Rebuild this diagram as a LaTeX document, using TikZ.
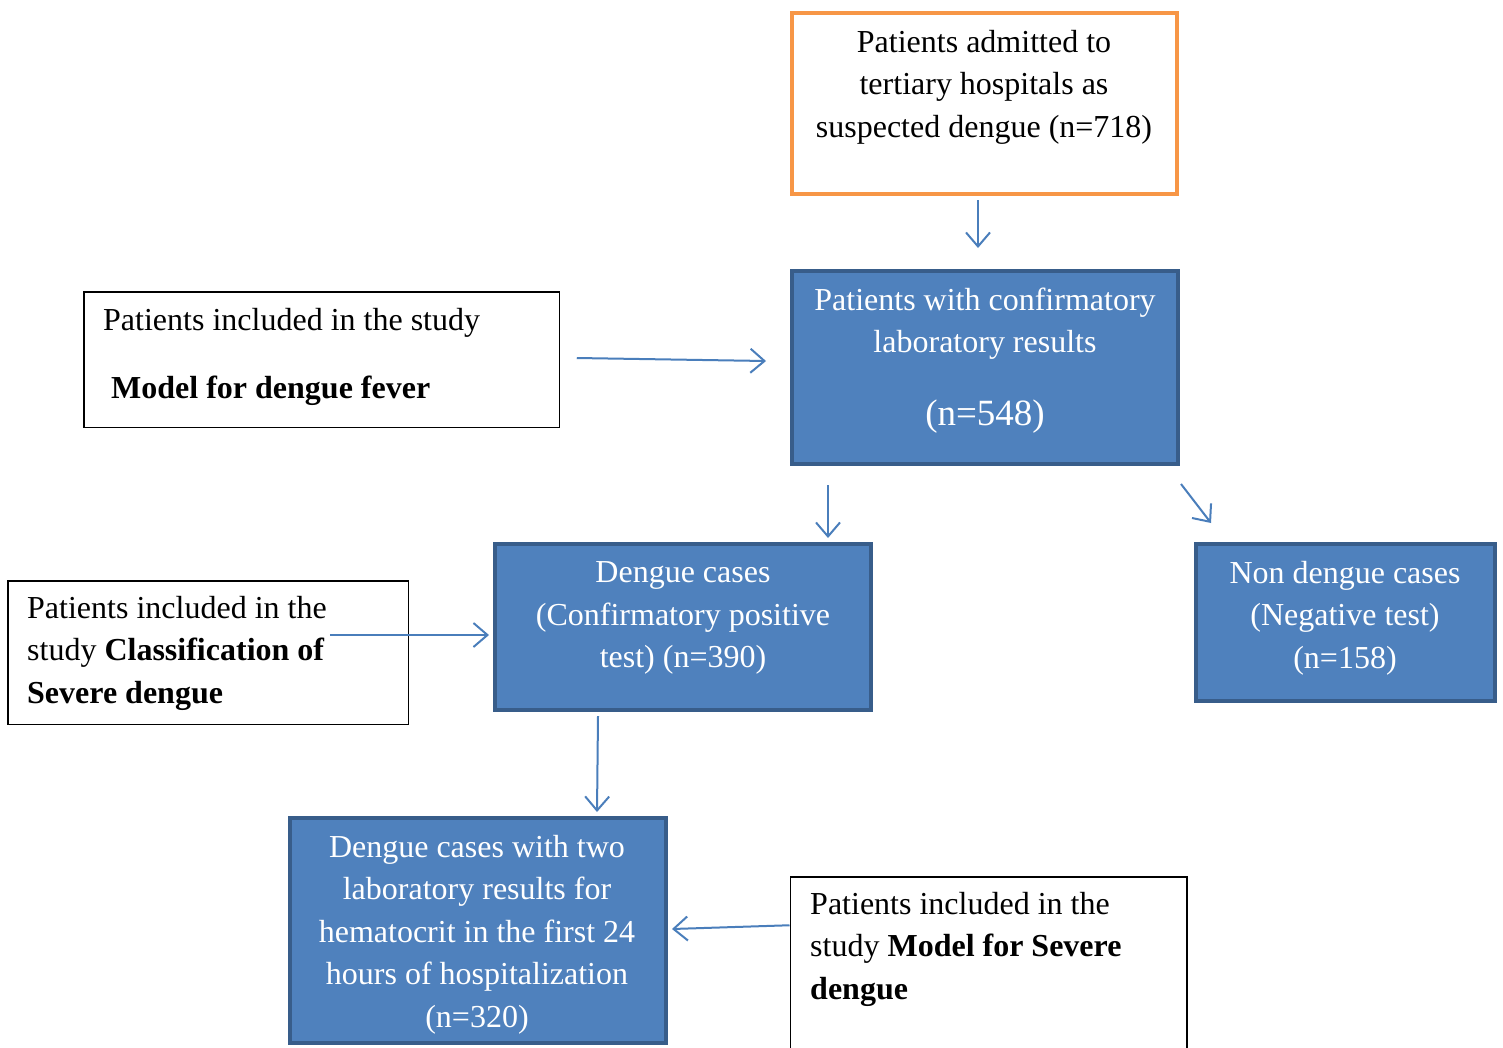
\documentclass[tikz,border=0pt]{standalone}
\usepackage{fontspec}
\setmainfont{Liberation Serif}
\usetikzlibrary{arrows.meta,calc}
\definecolor{blueF}{HTML}{4F81BD}
\definecolor{blueD}{HTML}{385D8A}
\definecolor{orangeB}{HTML}{F79646}
\definecolor{arrC}{HTML}{4A7EBB}
\begin{document}
\begin{tikzpicture}[x=1pt,y=-1pt,
  bluebox/.style={draw=blueD, fill=blueF, line width=4pt, inner sep=0, rectangle},
  orangebox/.style={draw=orangeB, line width=4pt, inner sep=0, rectangle},
  whitebox/.style={draw=black, line width=1.5pt, inner sep=0, rectangle},
  txt/.style={inner sep=0, font=\fontsize{32}{42.5}\selectfont},
  wtxt/.style={txt, text=white, align=center, anchor=north},
  arr/.style={draw=arrC, line width=2pt, -{Straight Barb[length=14pt,width=24pt]}}]
\useasboundingbox (0,0) rectangle (1503,1047);

% boxes
\node[orangebox, minimum width=385, minimum height=181] (adm) at (984.5,103.5) {};
\node[bluebox, minimum width=386, minimum height=193] (conf) at (985,367.5) {};
\node[bluebox, minimum width=376, minimum height=166] (pos) at (683,627) {};
\node[bluebox, minimum width=299, minimum height=157] (neg) at (1345.5,622.5) {};
\node[bluebox, minimum width=376, minimum height=225] (hct) at (478,930.5) {};
\node[whitebox, minimum width=475.5, minimum height=135.5] (incA) at (321.5,359.5) {};
\node[whitebox, minimum width=400.5, minimum height=143.5] (incB) at (208,652.5) {};
\node[whitebox, minimum width=396.5, minimum height=203] (incC) at (988.5,978.25) {};

% texts
\node[txt, align=center, anchor=north] (admT) at (984,22.25)
  {\strut Patients admitted to\\ \strut tertiary hospitals as\\ \strut suspected dengue (n=718)};
\node[wtxt] (confT) at (985,280.25)
  {\strut Patients with confirmatory\\ \strut laboratory results};
\node[inner sep=0, font=\fontsize{37}{44}\selectfont, text=white, anchor=base] (confN) at (985,425) {(n=548)};
\node[wtxt] (posT) at (683,552.75)
  {\strut Dengue cases\\ \strut (Confirmatory positive\\ \strut test) (n=390)};
\node[wtxt] (negT) at (1345,553.25)
  {\strut Non dengue cases\\ \strut (Negative test)\\ \strut (n=158)};
\node[wtxt] (hctT) at (477,827.25)
  {\strut Dengue cases with two\\ \strut laboratory results for\\ \strut hematocrit in the first 24\\ \strut hours of hospitalization\\ \strut (n=320)};
\node[txt, anchor=base west] (incAT1) at (103,330) {Patients included in the study};
\node[txt, anchor=base west] (incAT2) at (111,398) {\bfseries Model for dengue fever};
\node[txt, anchor=north west, align=left] (incBT) at (27,588.25)
  {\strut Patients included in the\\ \strut study \textbf{Classification of}\\ \strut\textbf{Severe dengue}};
\node[txt, anchor=north west, align=left] (incCT) at (810,884.25)
  {\strut Patients included in the\\ \strut study \textbf{Model for Severe}\\ \strut\textbf{dengue}};

% connectors
\draw[arr] ($(adm.south)+(-6.5,4)$) -- ($(conf.north)+(-7,-21)$);
\draw[arr] ($(incA.east)+(16.75,-1.5)$) -- ($(conf.west)+(-24,-6.5)$);
\draw[arr] ($(conf.south)+(-157,19)$) -- ($(pos.north)+(145,-4)$);
\draw[arr] ($(conf.south east)+(1,18)$) -- ($(neg.north west)+(17,-19)$);
\draw[arr] ($(incB.east)+(-79.25,-17.5)$) -- ($(pos.west)+(-4,8)$);
\draw[arr] ($(pos.south)+(-85,4)$) -- ($(hct.north)+(119,-4)$);
\draw[arr] ($(incC.north west)+(0,49.25)$) -- ($(hct.east)+(4,-1.5)$);
\end{tikzpicture}
\end{document}
